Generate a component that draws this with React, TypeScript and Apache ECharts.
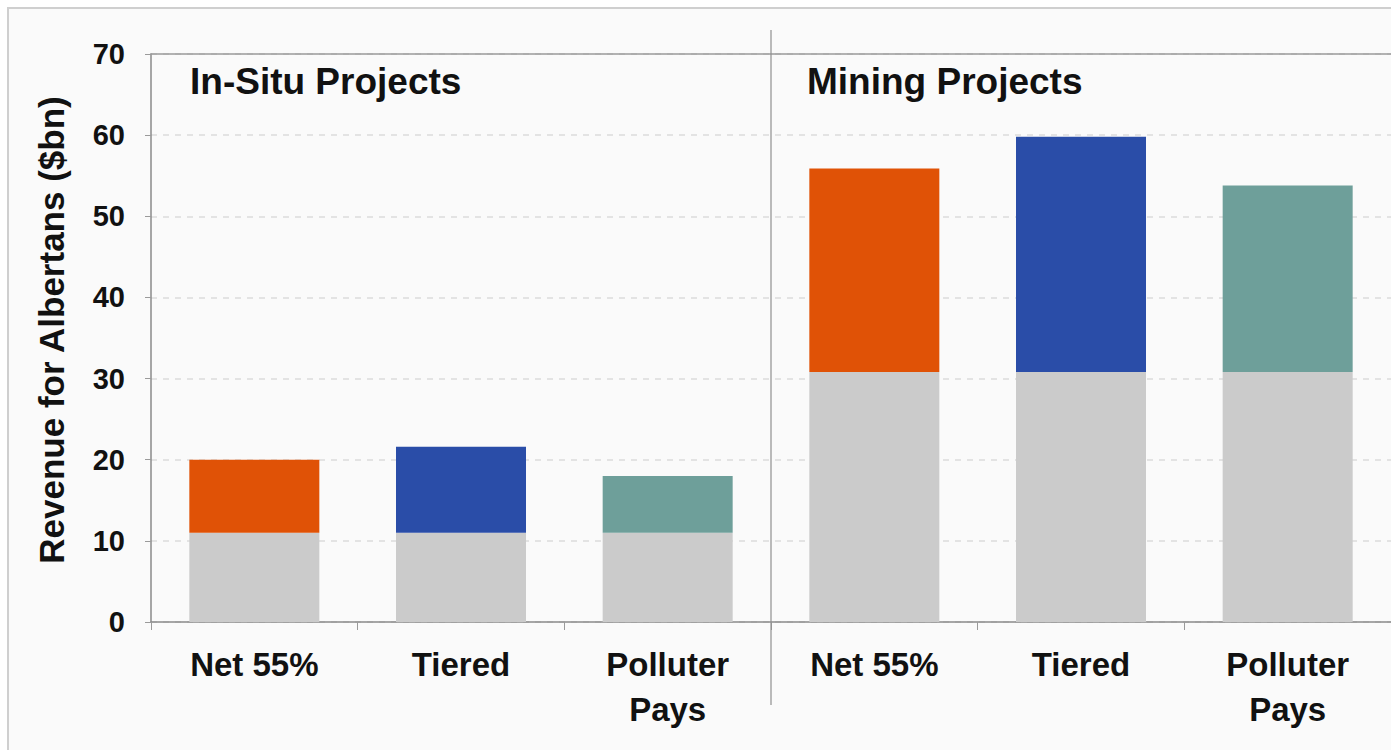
import React, { useEffect, useRef } from "react";
import * as echarts from "echarts";

const categories = ["Net 55%", "Tiered", "Polluter\nPays", "Net 55%", "Tiered", "Polluter\nPays"];
const baseValues = [11, 11, 11, 30.8, 30.8, 30.8];
const totalValues = [20, 21.6, 18, 55.9, 59.8, 53.8];
const topColors = ["#E05206", "#2A4DA8", "#6E9F9A", "#E05206", "#2A4DA8", "#6E9F9A"];
const groupTitles = ["In-Situ Projects", "Mining Projects"];
const yTicks = { min: 0, max: 70, interval: 10 };

const FONT = "'Liberation Sans', Arial, sans-serif";

export default function App() {
  const ref = useRef<HTMLDivElement>(null);
  useEffect(() => {
    if (!ref.current) return;
    const chart = echarts.init(ref.current, null, { renderer: "svg" });
    const gridLeft = 151;
    const gridTop = 54;
    const gridBottom = 128;
    const width = 1391;
    const catW = (width - gridLeft) / categories.length;
    const sepX = gridLeft + catW * 3;
    chart.setOption({
      animation: false,
      backgroundColor: "#ffffff",
      grid: { left: gridLeft, right: 0, top: gridTop, bottom: gridBottom, containLabel: false },
      xAxis: [
        {
          type: "category",
          data: categories,
          axisLine: { show: true, lineStyle: { color: "#8a8a8a", width: 1.5 } },
          axisTick: { show: true, length: 8, lineStyle: { color: "#9a9a9a" } },
          axisLabel: {
            margin: 20,
            fontFamily: FONT,
            fontWeight: "bold",
            fontSize: 33,
            color: "#111",
            lineHeight: 45,
            interval: 0,
          },
        },
        {
          type: "category",
          position: "top",
          data: categories,
          axisLine: { show: true, lineStyle: { color: "#9a9a9a", width: 1.5 } },
          axisTick: { show: false },
          axisLabel: { show: false },
        },
      ],
      yAxis: {
        type: "value",
        min: yTicks.min,
        max: yTicks.max,
        interval: yTicks.interval,
        name: "Revenue for Albertans ($bn)",
        nameLocation: "middle",
        nameGap: 82,
        nameTextStyle: { fontFamily: FONT, fontWeight: "bold", fontSize: 35, color: "#111", padding: [0, 0, 0, 16] },
        axisLine: { show: true, lineStyle: { color: "#8a8a8a", width: 1.5 } },
        axisTick: { show: true, inside: false, length: 6, lineStyle: { color: "#9a9a9a" } },
        axisLabel: { margin: 26, fontFamily: FONT, fontWeight: "bold", fontSize: 29, color: "#111" },
        splitLine: { show: true, lineStyle: { color: "#dcdcdc", type: [6, 6], width: 1.5 } },
      },
      series: [
        {
          type: "bar",
          stack: "rev",
          barWidth: 130,
          data: baseValues,
          itemStyle: { color: "#CBCBCB" },
          silent: true,
        },
        {
          type: "bar",
          stack: "rev",
          barWidth: 130,
          data: totalValues.map((t, i) => ({
            value: +(t - baseValues[i]).toFixed(2),
            itemStyle: { color: topColors[i] },
          })),
          silent: true,
        },
      ],
      graphic: [
        {
          type: "rect",
          shape: { x: 8, y: 8, width: 1400, height: 760 },
          style: { fill: "#fafafa", stroke: "#cfcfcf", lineWidth: 2 },
          z: -10,
          silent: true,
        },
        {
          type: "line",
          shape: { x1: sepX, y1: 30, x2: sepX, y2: 705 },
          style: { stroke: "#8f8f8f", lineWidth: 1.2 },
          z: 10,
          silent: true,
        },
        {
          type: "text",
          x: 190,
          y: 81,
          style: {
            text: groupTitles[0],
            fontFamily: FONT,
            fontWeight: "bold",
            fontSize: 37,
            fill: "#111",
            textVerticalAlign: "middle",
          },
          z: 10,
        },
        {
          type: "text",
          x: 807,
          y: 81,
          style: {
            text: groupTitles[1],
            fontFamily: FONT,
            fontWeight: "bold",
            fontSize: 37,
            fill: "#111",
            textVerticalAlign: "middle",
          },
          z: 10,
        },
      ],
    });
    return () => chart.dispose();
  }, []);
  return (
    <div
      ref={ref}
      style={{ position: "fixed", left: 0, top: 0, width: 1391, height: 750 }}
    />
  );
}
